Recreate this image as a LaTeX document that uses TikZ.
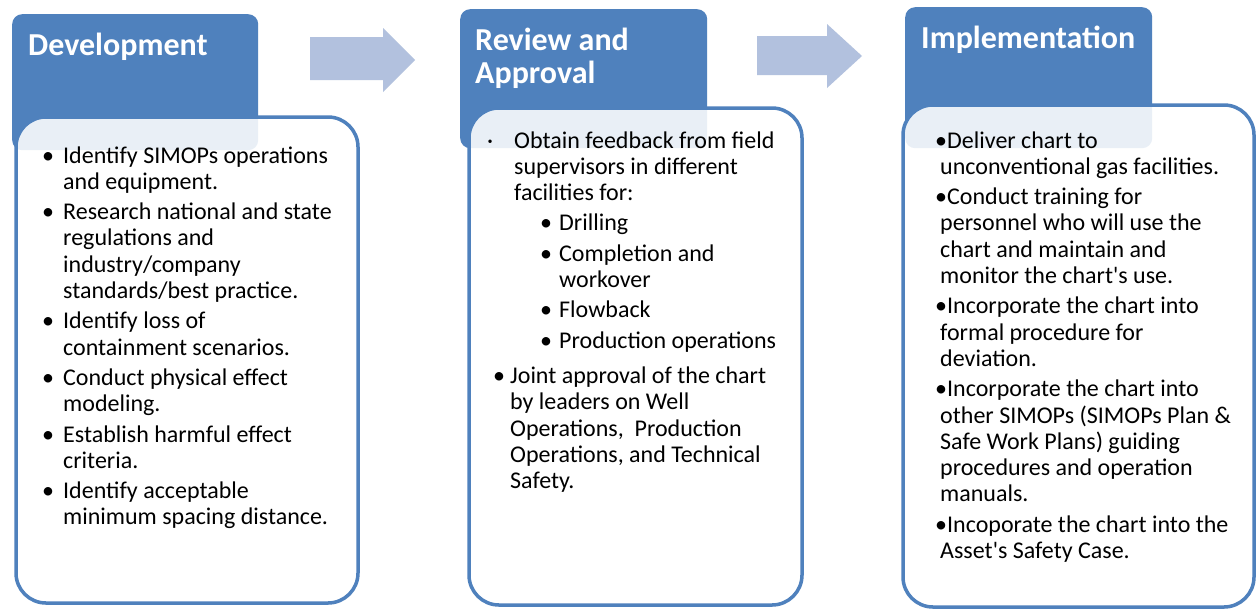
\documentclass[tikz,border=0pt]{standalone}
\usepackage{fontspec}
\setmainfont{Carlito}
\definecolor{hblue}{RGB}{79,129,189}
\definecolor{ablue}{RGB}{178,193,222}
\newcommand\li[4]{\par\leftskip=#1pt\relax\hangindent=\dimexpr#2pt-#1pt\relax\hangafter=1\noindent\makebox[\dimexpr#2pt-#1pt\relax][l]{#3}#4}
\newcommand\lj[1]{\par\leftskip=5pt\relax\noindent\hspace*{-5pt}#1}
\newcommand\bodyset{\fontsize{24}{26.3}\selectfont\parskip=4pt\relax\parfillskip=0pt plus 1fil\relax}
\begin{document}
\begin{tikzpicture}[x=1pt,y=-1pt,
  hdr/.style={fill=hblue, rounded corners=10pt, draw=none, inner sep=0, anchor=north west},
  card/.style={draw=hblue, line width=3.5pt, fill=white, fill opacity=0.88, rounded corners=30pt},
  htext/.style={anchor=base west, inner sep=0, text=white, font=\fontsize{32}{33}\selectfont\bfseries},
  btext/.style={anchor=base west, inner sep=0, text=black},
  blk/.style={fill=ablue}]
\useasboundingbox (0,0) rectangle (1257,611);
\fill[white] (0,0) rectangle (1257,611);

% headers
\node[hdr, minimum width=246pt, minimum height=136pt] (h1) at (12,14) {};
\node[hdr, minimum width=247pt, minimum height=139pt] (h2) at (460,9) {};
\node[hdr, minimum width=247pt, minimum height=141pt] (h3) at (905,7) {};

% block arrows
\fill[blk] (310,37) -- (383,37) -- (383,28) -- (415,60) -- (383,92) -- (383,80) -- (310,80) -- cycle;
\fill[blk] (757,36) -- (827,36) -- (827,24) -- (862,56) -- (827,88) -- (827,75) -- (757,75) -- cycle;

% cards
\path[card] (16,117) rectangle (358,603);
\path[card] (469,108) rectangle (802,605);
\path[card] (903,105) rectangle (1254,607);

% header texts
\node[htext] (ht1) at (28,55) {Development};
\node[htext] (ht2) at (475,50) {\parbox[t]{240pt}{\fontsize{32}{33}\selectfont\bfseries Review and\\Approval}};
\node[htext] (ht3) at (921,48) {Implementation};

% body texts
\node[btext] (b1) at (40,163) {\parbox[t]{318pt}{\bodyset
\li{2}{23}{•}{Identify SIMOPs operations\\and equipment.}
\li{2}{23}{•}{Research national and state\\regulations and\\industry/company\\standards/best practice.}
\li{2}{23}{•}{Identify loss of\\containment scenarios.}
\li{2}{23}{•}{Conduct physical effect\\modeling.}
\li{2}{23}{•}{Establish harmful effect\\criteria.}
\li{2}{23}{•}{Identify acceptable\\minimum spacing distance.}\par}};

\node[btext] (b2) at (480,148) {\parbox[t]{318pt}{\bodyset
\li{7}{34}{·}{Obtain feedback from field\\supervisors in different\\facilities for:}
\li{60}{79}{•}{Drilling}
\li{60}{79}{•}{Completion and\\workover}
\li{60}{79}{•}{Flowback}
\li{60}{79}{•}{Production operations}
\vspace{5pt}
\li{13}{30}{•}{Joint approval of the chart\\by leaders on Well\\Operations, \ Production\\Operations, and Technical\\Safety.}\par}};

\node[btext] (b3) at (935,148) {\parbox[t]{318pt}{\bodyset
\lj{•Deliver chart to\\unconventional gas facilities.}
\lj{•Conduct training for\\personnel who will use the\\chart and maintain and\\monitor the chart\textquotesingle s use.}
\lj{•Incorporate the chart into\\formal procedure for\\deviation.}
\lj{•Incorporate the chart into\\other SIMOPs (SIMOPs Plan \&\\Safe Work Plans) guiding\\procedures and operation\\manuals.}
\lj{•Incoporate the chart into the\\Asset\textquotesingle s Safety Case.}\par}};
\end{tikzpicture}
\end{document}
